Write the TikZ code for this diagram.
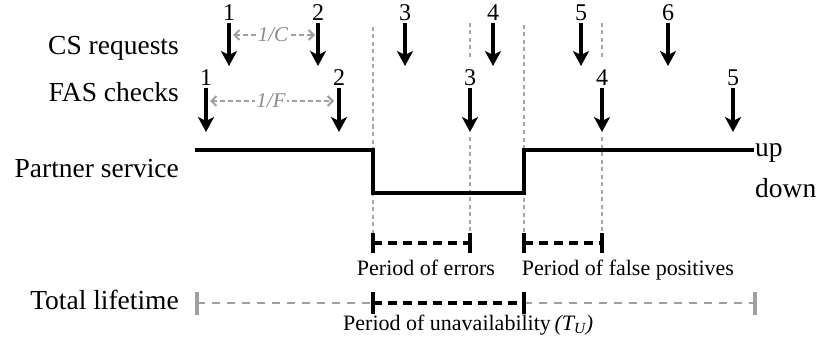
\documentclass[tikz,border=0pt]{standalone}
\usepackage{fontspec}
\setmainfont{Liberation Serif}
\usetikzlibrary{arrows.meta}
\begin{document}
\begin{tikzpicture}[x=1pt,y=-1pt,
  lbl/.style={font=\fontsize{27.5}{30}\selectfont, inner sep=0pt},
  num/.style={font=\fontsize{24}{26}\selectfont, inner sep=0pt, anchor=base},
  small/.style={font=\fontsize{22}{24}\selectfont, inner sep=0pt},
  rtxt/.style={font=\fontsize{21}{23}\selectfont\itshape, text=gray!90, fill=white, inner sep=1pt},
  evt/.style={line width=3.5pt, -{Stealth[length=15pt,width=16pt,inset=4pt]}},
  guide/.style={draw=gray!70, line width=1.5pt, dash pattern=on 4pt off 3.5pt},
  rate/.style={draw=gray!75, line width=2pt, dash pattern=on 5pt off 3pt,
     {Straight Barb[length=5pt,width=10pt]}-{Straight Barb[length=5pt,width=10pt]}},
  svc/.style={line width=3.5pt},
  brk/.style={line width=3.5pt, dash pattern=on 9pt off 6pt},
  gbrk/.style={draw=gray!75, line width=2pt, dash pattern=on 8pt off 7pt},
  tick/.style={line width=4pt},
  gtick/.style={draw=gray!75, line width=4pt}
]
\useasboundingbox (0,0) rectangle (820,345);

% row labels
\node[lbl, anchor=base east] (cs)  at (179,55)  {CS requests};
\node[lbl, anchor=base east] (fas) at (179,102) {FAS checks};
\node[lbl, anchor=base east] (ps)  at (179,177) {Partner service};
\node[lbl, anchor=base east] (tl)  at (179,309) {Total lifetime};

% guide lines
\coordinate (gA1) at (373,27);  \coordinate (gA2) at (373,233);
\coordinate (gB1) at (470,23);  \coordinate (gB2) at (470,58);
\coordinate (gB3) at (470,137); \coordinate (gB4) at (470,233);
\coordinate (gC1) at (524,25);  \coordinate (gC2) at (524,233);
\coordinate (gD1) at (602,23);  \coordinate (gD2) at (602,58);
\coordinate (gD3) at (602,137); \coordinate (gD4) at (602,233);
\draw[guide] (gA1) -- (gA2);
\draw[guide] (gB1) -- (gB2);
\draw[guide] (gB3) -- (gB4);
\draw[guide] (gC1) -- (gC2);
\draw[guide] (gD1) -- (gD2);
\draw[guide] (gD3) -- (gD4);

% CS requests
\foreach \n/\x in {1/229,2/318,3/405,4/493,5/581,6/668}{
  \node[num] (csn\n) at (\x,21) {\n};
  \coordinate (cst\n) at (\x,23);
  \coordinate (csb\n) at (\x,66);
  \draw[evt] (cst\n) -- (csb\n);
}
% FAS checks
\foreach \n/\x in {1/206,2/339,3/470,4/602,5/733}{
  \node[num] (fan\n) at (\x,85) {\n};
  \coordinate (fat\n) at (\x,88);
  \coordinate (fab\n) at (\x,132);
  \draw[evt] (fat\n) -- (fab\n);
}

% rate arrows
\coordinate (rc1) at (233,35); \coordinate (rc2) at (315,35);
\draw[rate] (rc1) -- (rc2);
\node[rtxt] (rc) at (273,35) {1/C};
\coordinate (rf1) at (210,101); \coordinate (rf2) at (334,101);
\draw[rate] (rf1) -- (rf2);
\node[rtxt] (rf) at (271,101) {1/F};

% partner service
\coordinate (s0) at (195,150);
\coordinate (s1) at (373,150);
\coordinate (s2) at (373,193);
\coordinate (s3) at (524,193);
\coordinate (s4) at (524,150);
\coordinate (s5) at (754,150);
\draw[svc] (s0) -- (s1) -- (s2) -- (s3) -- (s4) -- (s5);
\node[lbl, anchor=base west] (up) at (755,157) {up};
\node[lbl, anchor=base west] (down) at (755,197) {down};

% period of errors
\coordinate (e1) at (373,243); \coordinate (e2) at (470,243);
\draw[brk] (e1) -- (e2);
\draw[tick] (373,233) -- (373,253);
\draw[tick] (470,233) -- (470,253);
\node[small, anchor=base] (pe) at (426,275) {Period of errors};

% period of false positives
\coordinate (f1) at (524,243); \coordinate (f2) at (602,243);
\draw[brk] (f1) -- (f2);
\draw[tick] (524,233) -- (524,253);
\draw[tick] (602,233) -- (602,253);
\node[small, anchor=base] (pf) at (628,275) {Period of false positives};

% total lifetime
\coordinate (t0) at (197,303);
\coordinate (t1) at (373,303);
\coordinate (t2) at (524,303);
\coordinate (t3) at (755,303);
\draw[gbrk] (t0) -- (t1);
\draw[gbrk] (t2) -- (t3);
\draw[brk] (t1) -- (t2);
\draw[gtick] (197,292) -- (197,315);
\draw[gtick] (755,292) -- (755,315);
\draw[tick] (373,292) -- (373,314);
\draw[tick] (524,292) -- (524,314);
\node[small, anchor=base west] (pu) at (343,330) {Period of unavailability\,\textit{(T\textsubscript{U})}};
\end{tikzpicture}
\end{document}
